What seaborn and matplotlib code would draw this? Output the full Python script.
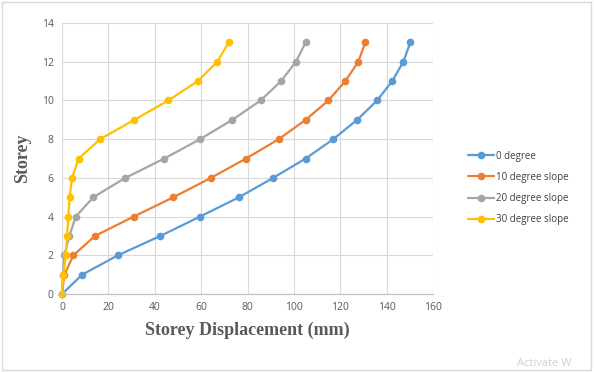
import pandas as pd
import matplotlib.pyplot as plt
import seaborn as sns
from matplotlib.patches import Rectangle

# Data
storey = list(range(14))
disp_0deg = [0, 8.7, 24.1, 42.4, 59.5, 76.3, 91.0, 105.0, 116.9, 127.2, 135.8, 142.3, 147.1, 150.1]
disp_10deg = [0, 1.0, 4.9, 14.2, 30.9, 48.0, 64.2, 79.3, 93.4, 105.0, 114.8, 122.1, 127.7, 130.7]
disp_20deg = [0, 0.4, 1.0, 3.2, 5.9, 13.5, 27.3, 44.1, 59.5, 73.4, 85.6, 94.4, 100.8, 105.0]
disp_30deg = [0, 0.6, 1.6, 2.2, 2.7, 3.3, 4.3, 7.2, 16.4, 31.2, 45.8, 58.5, 66.9, 71.9]
series_names = ['0 degree', '10 degree slope', '20 degree slope', '30 degree slope']
colors = ['#5B9BD5', '#ED7D31', '#A5A5A5', '#FFC000']

frames = []
for name, vals in zip(series_names, [disp_0deg, disp_10deg, disp_20deg, disp_30deg]):
    frames.append(pd.DataFrame({'Displacement': vals, 'Storey': storey, 'Series': name}))
df = pd.concat(frames, ignore_index=True)

sns.set_style("white")
plt.rcParams['font.family'] = ['Open Sans', 'DejaVu Sans']

fig = plt.figure(figsize=(5.94, 3.72), dpi=100)
ax = fig.add_axes([0.1044, 0.2097, 0.625, 0.7283])

sns.lineplot(data=df, x='Displacement', y='Storey', hue='Series', palette=colors,
             marker='o', markersize=5.5, markeredgewidth=0, linewidth=1.6,
             sort=False, estimator=None, ax=ax)
for line in ax.lines:
    line.set_clip_on(False)

ax.set_xlim(0, 160)
ax.set_ylim(0, 14)
ax.set_xticks(range(0, 161, 20))
ax.set_yticks(range(0, 15, 2))
ax.grid(True, color='#D9D9D9', linewidth=0.8)
ax.set_axisbelow(True)
for side in ['top', 'right', 'left']:
    ax.spines[side].set_visible(False)
ax.spines['bottom'].set_color('#BFBFBF')
ax.tick_params(length=0, labelsize=7.5, colors='#595959', pad=6)

ax.set_xlabel('Storey Displacement (mm)', family='Liberation Serif', fontweight='bold',
              fontsize=13, color='#595959', labelpad=6)
ax.set_ylabel('Storey', family='Liberation Serif', fontweight='bold',
              fontsize=13, color='#595959', labelpad=8)

leg = ax.legend(loc='center left', bbox_to_anchor=(0.782, 0.495), bbox_transform=fig.transFigure,
                frameon=False, fontsize=7, handlelength=2.6, handletextpad=0.2,
                labelspacing=1.05, borderaxespad=0)
for t in leg.get_texts():
    t.set_color('#404040')

fig.text(0.87, 0.008, 'Activate W', fontsize=8, color='#D0D0D0', ha='left', va='bottom')
fig.patches.append(Rectangle((0.003, 0.005), 0.992, 0.99, transform=fig.transFigure,
                             fill=False, edgecolor='#D9D9D9', linewidth=1))

fig.savefig('out.png', dpi=100)
